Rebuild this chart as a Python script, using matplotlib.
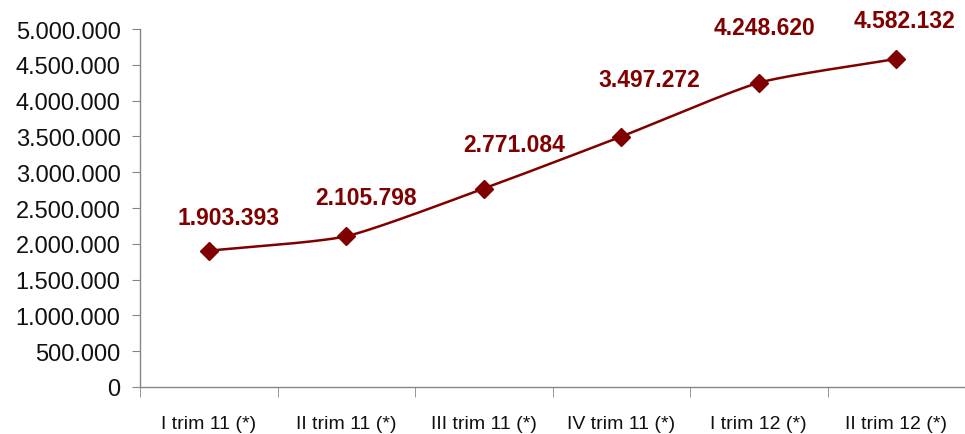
import matplotlib
matplotlib.use("Agg")
import matplotlib.pyplot as plt
import numpy as np
from matplotlib.ticker import FuncFormatter, FixedLocator, MultipleLocator

categories = ["I trim 11 (*)", "II trim 11 (*)", "III trim 11 (*)",
              "IV trim 11 (*)", "I trim 12 (*)", "II trim 12 (*)"]
values = [1903393, 2105798, 2771084, 3497272, 4248620, 4582132]

# label offsets in points (dx, dy) relative to each marker
label_offsets = [(14, 24), (14, 28), (22, 32), (20, 41), (4, 40), (6, 28)]

RED = "#800000"

def fmt(v):
    return f"{int(v):,}".replace(",", ".")

def smooth(x, y, n=30, k=0.3):
    x = np.asarray(x, float); y = np.asarray(y, float)
    px = np.concatenate([[2*x[0]-x[1]], x, [2*x[-1]-x[-2]]])
    py = np.concatenate([[2*y[0]-y[1]], y, [2*y[-1]-y[-2]]])
    xs, ys = [], []
    t = np.linspace(0, 1, n, endpoint=False)
    h00 = 2*t**3 - 3*t**2 + 1; h10 = t**3 - 2*t**2 + t
    h01 = -2*t**3 + 3*t**2; h11 = t**3 - t**2
    for i in range(1, len(px)-2):
        for P, out in ((px, xs), (py, ys)):
            m1 = k*(P[i+1]-P[i-1]); m2 = k*(P[i+2]-P[i])
            out.extend(h00*P[i] + h10*m1 + h01*P[i+1] + h11*m2)
    xs.append(x[-1]); ys.append(y[-1])
    return np.array(xs), np.array(ys)

plt.rcParams['font.family'] = ['Liberation Sans', 'DejaVu Sans']

fig = plt.figure(figsize=(9.65, 4.35), dpi=100)
ax = fig.add_axes([140/965, 1-388/435, 1-140/965, (388-30)/435])

xpos = np.arange(len(categories))
sx, sy = smooth(xpos, values)
ax.plot(sx, sy, color=RED, lw=1.8, zorder=2)
ax.plot(xpos, values, linestyle="none", marker="D", markersize=9, color=RED, zorder=3)

for i, v in enumerate(values):
    dx, dy = label_offsets[i]
    ax.annotate(fmt(v), (xpos[i], v), xytext=(dx, dy), textcoords="offset points",
                ha="center", va="center", fontsize=16.5, fontweight="bold", color=RED)

ax.set_xlim(-0.5, len(categories)-0.5)
ax.set_ylim(0, 5000000)
ax.yaxis.set_major_locator(MultipleLocator(500000))
ax.yaxis.set_major_formatter(FuncFormatter(lambda v, p: fmt(v)))
ax.set_xticks(xpos)
ax.set_xticklabels(categories)
ax.xaxis.set_minor_locator(FixedLocator(np.arange(-0.5, len(categories), 1.0)))

for s in ["top", "right"]:
    ax.spines[s].set_visible(False)
for s in ["left", "bottom"]:
    ax.spines[s].set_color("#868686")
    ax.spines[s].set_linewidth(1.0)

ax.tick_params(axis="y", which="major", direction="out", length=6, color="#868686",
               labelsize=17, pad=8, labelcolor="#111111")
ax.tick_params(axis="x", which="major", length=0, labelsize=14, pad=20, labelcolor="#111111")
ax.tick_params(axis="x", which="minor", direction="out", length=7, color="#868686")

fig.savefig("out.png", dpi=100)
